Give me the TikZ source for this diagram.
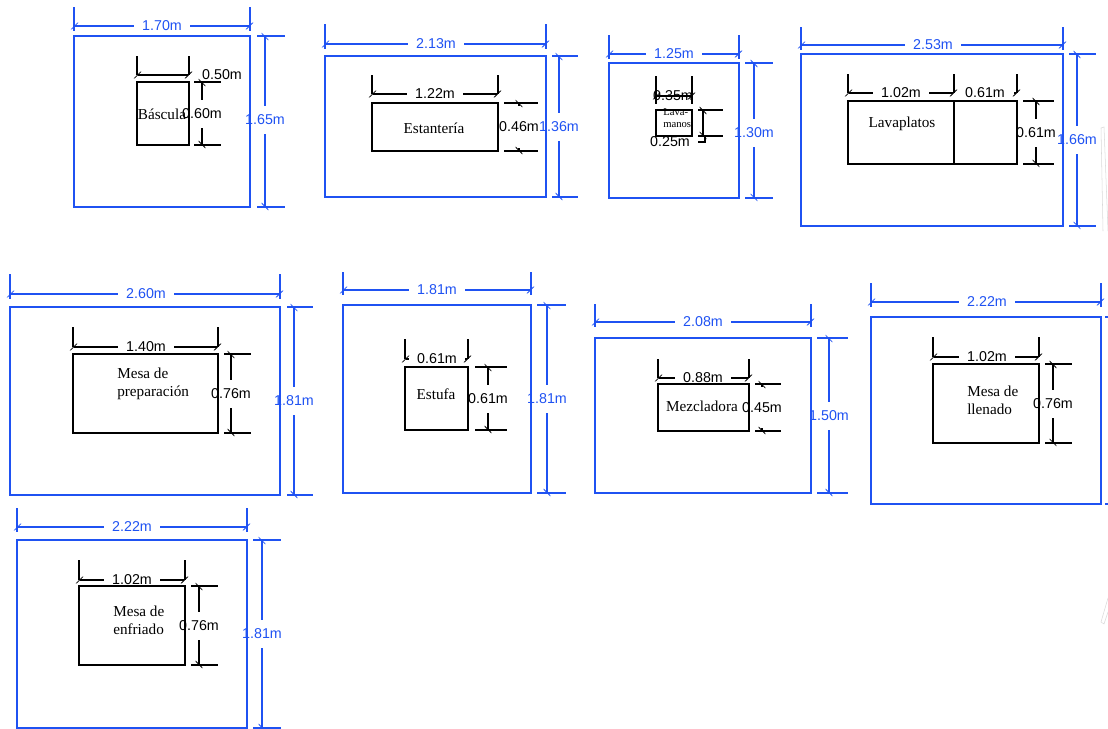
\documentclass[tikz,border=0pt]{standalone}
\usepackage{fontspec}
\setmainfont{Liberation Serif}
\setsansfont{Liberation Sans}
\usetikzlibrary{arrows.meta}
\definecolor{planblue}{HTML}{1F52F2}

\begin{document}
\begin{tikzpicture}[
    x=0.75pt, y=-0.75pt,
    room/.style={draw=planblue, line width=1.1pt},
    fixture/.style={draw=black, line width=0.95pt},
    bluedim/.style={draw=planblue, line width=1.1pt, {Bar[width=5pt,slant=1,line width=0.8pt]}-},
    blackdim/.style={draw=black, line width=0.95pt, {Bar[width=5pt,slant=1,line width=0.8pt]}-},
    blueext/.style={draw=planblue, line width=1.1pt},
    blackext/.style={draw=black, line width=0.95pt},
    measure/.style={font=\sffamily\fontsize{10.7}{12}\selectfont, inner xsep=6.3pt, inner ysep=6.8pt},
    bluelabel/.style={measure, text=planblue},
    fixname/.style={font=\fontsize{11.4}{13.5}\selectfont, inner sep=0pt}
]
    \useasboundingbox (0,0) rectangle (1108,729);

    % Rooms
    \foreach \xa/\ya/\xb/\yb in {74/36/250/207, 325/56/546/197, 609/63/739/198, 801/54/1063/226,
        10/307/280/495, 343/305/531/493, 595/338/811/493, 871/317/1101/504, 17/540/247/728}
        \draw[room] (\xa,\ya) rectangle (\xb,\yb);

    % Fixtures
    \foreach \xa/\ya/\xb/\yb in {137/82/189/145, 372/103/498/151, 656/110/692/136, 848/101/1017/164,
        73/354/218/433, 405/367/468/430, 658/384/749/431, 933/364/1039/443, 79/586/185/665}
        \draw[fixture] (\xa,\ya) rectangle (\xb,\yb);
    \draw[fixture] (954,101) -- (954,164);

    % Room widths
    \foreach \n/\xa/\xb/\yy/\ye/\lx/\lab in {wa/74/250/26/7/162/1.70m, wb/325/546/44/24/436/2.13m,
        wc/609/739/54/35/674/1.25m, wd/801/1063/45/27/933/2.53m, we/10/280/294/274/146/2.60m,
        wf/343/531/290/272/437/1.81m, wg/595/811/322/304/703/2.08m, wh/871/1101/302/283/987/2.22m,
        wi/17/247/527/508/132/2.22m} {
        \node[bluelabel] (\n) at (\lx,\yy) {\lab};
        \draw[bluedim] (\xa,\yy) -- (\n);
        \draw[bluedim] (\xb,\yy) -- (\n);
        \draw[blueext] (\xa,\ye) -- (\xa,\yy+5);
        \draw[blueext] (\xb,\ye) -- (\xb,\yy+5);
    }

    % Room depths
    \foreach \n/\xx/\ya/\yb/\ea/\eb/\ly/\lab in {da/265/36/207/257/285/120/1.65m,
        db/559/56/197/552/578/127/1.36m, dc/754/63/198/745/773/133/1.30m,
        dd/1077/54/226/1069/1096/140/1.66m, de/294/307/495/287/313/401/1.81m,
        df/547/305/493/537/566/399/1.81m, dg/829/338/493/817/848/416/1.50m,
        di/262/540/728/253/281/634/1.81m} {
        \node[bluelabel] (\n) at (\xx,\ly) {\lab};
        \draw[bluedim] (\xx,\ya) -- (\n);
        \draw[bluedim] (\xx,\yb) -- (\n);
        \draw[blueext] (\ea,\ya) -- (\eb,\ya);
        \draw[blueext] (\ea,\yb) -- (\eb,\yb);
    }

    % Fixture widths
    \foreach \n/\xa/\xb/\yy/\ye/\lx/\lab in {fb/372/498/94/75/435/1.22m, fd/848/954/93/74/901/1.02m,
        fe/73/218/347/327/146/1.40m, ff/405/468/359/339/437/0.61m, fg/658/749/378/359/703/0.88m,
        fh/933/1039/357/337/987/1.02m, fi/79/185/580/560/132/1.02m} {
        \node[measure] (\n) at (\lx,\yy) {\lab};
        \draw[blackdim] (\xa,\yy) -- (\n);
        \draw[blackdim] (\xb,\yy) -- (\n);
        \draw[blackext] (\xa,\ye) -- (\xa,\yy);
        \draw[blackext] (\xb,\ye) -- (\xb,\yy);
    }

    % Fixture depths
    \foreach \n/\xx/\ya/\yb/\ea/\eb/\ly/\lab in {ga/202/82/145/194/221/114/0.60m,
        gd/1036/101/164/1023/1054/133/0.61m, ge/231/354/433/224/251/394/0.76m,
        gf/488/367/430/475/507/399/0.61m, gh/1053/364/443/1045/1072/404/0.76m,
        gi/199/586/665/191/218/626/0.76m} {
        \node[measure] (\n) at (\xx,\ly) {\lab};
        \draw[blackdim] (\xx,\ya) -- (\n);
        \draw[blackdim] (\xx,\yb) -- (\n);
        \draw[blackext] (\ea,\ya) -- (\eb,\ya);
        \draw[blackext] (\ea,\yb) -- (\eb,\yb);
    }

    % Depths too small for a shaft
    \foreach \n/\xx/\ya/\yb/\ea/\eb/\ly/\lab in {gb/519/103/151/504/538/127/0.46m,
        gg/762/384/431/755/781/408/0.45m} {
        \node[measure] (\n) at (\xx,\ly) {\lab};
        \draw[blackdim] (\xx,\ya) -- (\xx,\ya+3);
        \draw[blackdim] (\xx,\yb) -- (\xx,\yb-3);
        \draw[blackext] (\ea,\ya) -- (\eb,\ya);
        \draw[blackext] (\ea,\yb) -- (\eb,\yb);
    }

    % Odd ones
    \node[measure] (fa) at (222,75) {0.50m};
    \draw[blackdim] (137,75) -- (163,75);
    \draw[blackdim] (189,75) -- (163,75);
    \draw[blackext] (137,56) -- (137,75);
    \draw[blackext] (189,56) -- (189,75);

    \node[measure] (fc) at (673,96) {0.35m};
    \draw[blackdim] (656,96) -- (674,96);
    \draw[blackdim] (692,96) -- (674,96);
    \draw[blackext] (656,76) -- (656,104);
    \draw[blackext] (692,76) -- (692,104);

    \node[measure] (gc) at (670,142) {0.25m};
    \draw[blackdim] (703,110) -- (703,125);
    \draw[blackdim] (703,136) -- (703,125);
    \draw[blackext] (698,110) -- (723,110);
    \draw[blackext] (698,136) -- (723,136);
    \draw[blackext] (705,136) -- (705,142) -- (698,142);

    \node[measure] (fj) at (985,93) {0.61m};
    \draw[blackdim] (1017,93) -- (1014,93);
    \draw[blackext] (1017,74) -- (1017,93);

    % Names
    \node[fixname] (bascula) at (162,114) {Báscula};
    \node[fixname] (estanteria) at (434,128) {Estantería};
    \node[fixname, font=\fontsize{8}{9.5}\selectfont, align=left, anchor=west] (lavamanos) at (663,118) {Lava-\\manos};
    \node[fixname] (lavaplatos) at (902,124) {Lavaplatos};
    \node[fixname, align=left, anchor=west] (preparacion) at (117,384) {Mesa de\\preparación};
    \node[fixname] (estufa) at (436,394) {Estufa};
    \node[fixname] (mezcladora) at (702,406) {Mezcladora};
    \node[fixname, align=left, anchor=west] (llenado) at (967,400) {Mesa de\\llenado};
    \node[fixname, align=left, anchor=west] (enfriado) at (113,620) {Mesa de\\enfriado};

    % Stray marks at the right edge
    \foreach \yy in {317,504}
        \draw[blueext] (1105,\yy) -- (1108,\yy);
    \draw[blueext] (1101.5,405) -- (1101.5,412);
    \draw[gray!30, line width=0.4pt] (1103,231) -- (1101,128) -- (1104,127) -- (1108,231);
    \draw[gray!30, line width=0.4pt] (1108,598) -- (1101,622) -- (1104,624) -- (1108,612);
\end{tikzpicture}
\end{document}
